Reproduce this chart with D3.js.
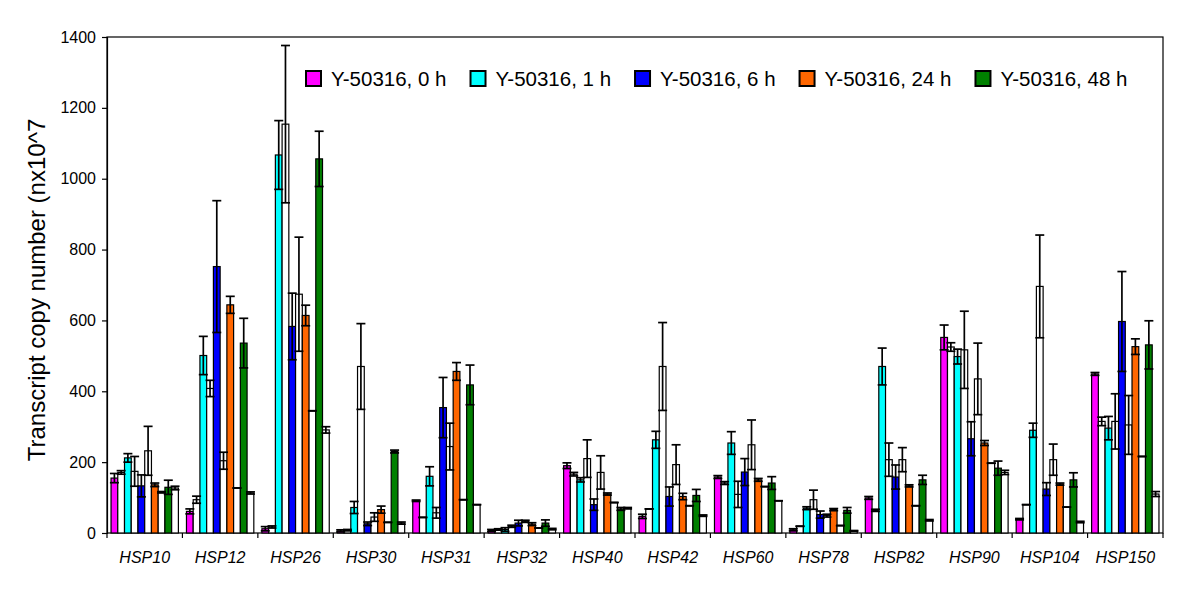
<!DOCTYPE html>
<html>
<head>
<meta charset="utf-8">
<script src="https://cdn.jsdelivr.net/npm/d3@7"></script>
<style>
  html, body { margin: 0; padding: 0; background: #fff; }
  svg { display: block; font-family: "Liberation Sans", Arial, sans-serif; }
</style>
</head>
<body>
<svg id="chart" width="1200" height="600"></svg>
<script>
const categories = ["HSP10","HSP12","HSP26","HSP30","HSP31","HSP32","HSP40","HSP42","HSP60","HSP78","HSP82","HSP90","HSP104","HSP150"];
const seriesLabels = ["Y-50316, 0 h","Y-50316, 1 h","Y-50316, 6 h","Y-50316, 24 h","Y-50316, 48 h"];
const seriesColors = ["#FF00FF","#00FFFF","#0000FF","#FF6600","#008000"];
const yTicks = [0,200,400,600,800,1000,1200,1400];

// Y-50316 series (coloured bars)
const y0h   = [155, 61, 12, 6, 91, 7, 190, 47, 158, 9, 99, 552, 39, 449];
const y0hErr= [13, 7, 6, 3, 2, 3, 8, 6, 4, 3, 4, 35, 2, 4];
const y1h   = [212, 501, 1067, 72, 160, 10, 150, 263, 254, 70, 470, 498, 290, 296];
const y1hErr= [12, 54, 97, 17, 27, 5, 6, 24, 32, 4, 52, 21, 20, 33];
const y6h   = [133, 752, 583, 26, 354, 28, 80, 103, 172, 52, 158, 266, 124, 597];
const y6hErr= [31, 186, 94, 5, 85, 8, 16, 27, 38, 10, 34, 48, 18, 141];
const y24h  = [136, 644, 614, 66, 456, 25, 110, 103, 150, 66, 133, 254, 138, 526];
const y24hErr=[5, 24, 29, 10, 25, 4, 3, 9, 4, 3, 3, 7, 3, 22];
const y48h  = [129, 536, 1056, 230, 418, 28, 68, 106, 141, 64, 150, 183, 150, 531];
const y48hErr=[20, 70, 78, 4, 56, 9, 4, 17, 18, 8, 13, 20, 20, 68];

// comparison series (white bars, not in legend)
const ref0h   = [171, 94, 17, 8, 44, 10, 166, 68, 141, 19, 64, 525, 80, 315];
const ref0hErr= [5, 10, 3, 2, 0, 2, 5, 0, 4, 0, 3, 12, 0, 12];
const ref1h   = [174, 408, 1154, 470, 57, 19, 210, 470, 109, 94, 207, 517, 696, 315];
const ref1hErr= [42, 23, 222, 121, 15, 3, 53, 124, 37, 27, 47, 109, 145, 78];
const ref6h   = [232, 204, 674, 45, 244, 33, 171, 193, 249, 49, 207, 435, 207, 305];
const ref6hErr= [69, 24, 161, 12, 66, 3, 47, 56, 70, 4, 34, 101, 44, 83];
const ref24h  = [115, 127, 345, 30, 94, 14, 86, 77, 131, 21, 77, 197, 73, 216];
const ref24hErr=[2, 0, 0, 0, 0, 0, 0, 0, 0, 0, 0, 0, 0, 0];
const ref48h  = [127, 113, 291, 28, 80, 11, 70, 49, 91, 6, 36, 171, 31, 110];
const ref48hErr=[5, 3, 9, 3, 0, 2, 2, 2, 0, 1, 2, 6, 2, 7];

const colouredVals = [y0h, y1h, y6h, y24h, y48h];
const colouredErrs = [y0hErr, y1hErr, y6hErr, y24hErr, y48hErr];
const refVals = [ref0h, ref1h, ref6h, ref24h, ref48h];
const refErrs = [ref0hErr, ref1hErr, ref6hErr, ref24hErr, ref48hErr];

// build bar records: order in each group = coloured, white, coloured, white ...
const slots = d3.range(10);
const records = [];
categories.forEach((cat, ci) => {
  for (let s = 0; s < 5; s++) {
    records.push({cat, slot: s*2, value: colouredVals[s][ci], err: colouredErrs[s][ci], fill: seriesColors[s]});
    records.push({cat, slot: s*2+1, value: refVals[s][ci], err: refErrs[s][ci], fill: "#FFFFFF"});
  }
});

const pLeft = 107, pRight = 1163, pTop = 37, pBottom = 533;
const svg = d3.select("#chart");

const x0 = d3.scaleBand().domain(categories).range([pLeft, pRight]).padding(0);
const x1 = d3.scaleBand().domain(slots).range([0, x0.bandwidth()]).paddingInner(0).paddingOuter(0.6);
const y = d3.scaleLinear().domain([0, 1400]).range([pBottom, pTop]);

// frame
svg.append("rect").attr("x", pLeft).attr("y", pTop).attr("width", pRight-pLeft).attr("height", pBottom-pTop)
  .attr("fill", "none").attr("stroke", "#000").attr("stroke-width", 1.2);

// bars
svg.append("g").selectAll("rect").data(records).join("rect")
  .attr("x", d => x0(d.cat) + x1(d.slot))
  .attr("y", d => y(d.value))
  .attr("width", x1.bandwidth())
  .attr("height", d => y(0) - y(d.value))
  .attr("fill", d => d.fill)
  .attr("stroke", "#000")
  .attr("stroke-width", 1.2);

// error bars
const capW = 9;
const eg = svg.append("g").attr("stroke", "#000").attr("stroke-width", 1.7).attr("fill", "none");
records.forEach(d => {
  const cx = x0(d.cat) + x1(d.slot) + x1.bandwidth()/2;
  const lo = Math.max(0, d.value - d.err), hi = d.value + d.err;
  eg.append("line").attr("x1", cx).attr("x2", cx).attr("y1", y(lo)).attr("y2", y(hi));
  eg.append("line").attr("x1", cx - capW/2).attr("x2", cx + capW/2).attr("y1", y(hi)).attr("y2", y(hi));
  eg.append("line").attr("x1", cx - capW/2).attr("x2", cx + capW/2).attr("y1", y(lo)).attr("y2", y(lo));
});

// y axis
const yAxis = svg.append("g").attr("transform", `translate(${pLeft},0)`)
  .call(d3.axisLeft(y).tickValues(yTicks).tickSize(5).tickPadding(6).tickFormat(d3.format("d")));
yAxis.select(".domain").attr("stroke", "#000").attr("stroke-width", 1.2);
yAxis.selectAll(".tick line").attr("stroke", "#000").attr("stroke-width", 1.2);
yAxis.selectAll(".tick text").attr("font-size", 16).attr("fill", "#000")
  .attr("font-family", "Liberation Sans, Arial, sans-serif");

// x axis: ticks at group boundaries
const xBoundaries = categories.map(c => x0(c)).concat([pRight]);
const xg = svg.append("g");
xg.selectAll("line").data(xBoundaries).join("line")
  .attr("x1", d => d).attr("x2", d => d).attr("y1", pBottom).attr("y2", pBottom + 5)
  .attr("stroke", "#000").attr("stroke-width", 1.2);
xg.selectAll("text").data(categories).join("text")
  .attr("x", d => x0(d) + x0.bandwidth()/2)
  .attr("y", 563)
  .attr("text-anchor", "middle")
  .attr("font-size", 16)
  .attr("font-style", "italic")
  .text(d => d);

// y axis title
svg.append("text")
  .attr("transform", `translate(45,${(pTop+pBottom)/2 + 5}) rotate(-90)`)
  .attr("text-anchor", "middle")
  .attr("font-size", 24)
  .text("Transcript copy number (nx10^7");

// legend
const lg = svg.append("g");
let lx = 306;
seriesLabels.forEach((lab, i) => {
  lg.append("rect").attr("x", lx).attr("y", 71).attr("width", 15).attr("height", 15)
    .attr("fill", seriesColors[i]).attr("stroke", "#000").attr("stroke-width", 2);
  const t = lg.append("text").attr("x", lx + 25).attr("y", 86).attr("font-size", 20.5).text(lab);
  lx += 25 + t.node().getComputedTextLength() + 24;
});
</script>
</body>
</html>
